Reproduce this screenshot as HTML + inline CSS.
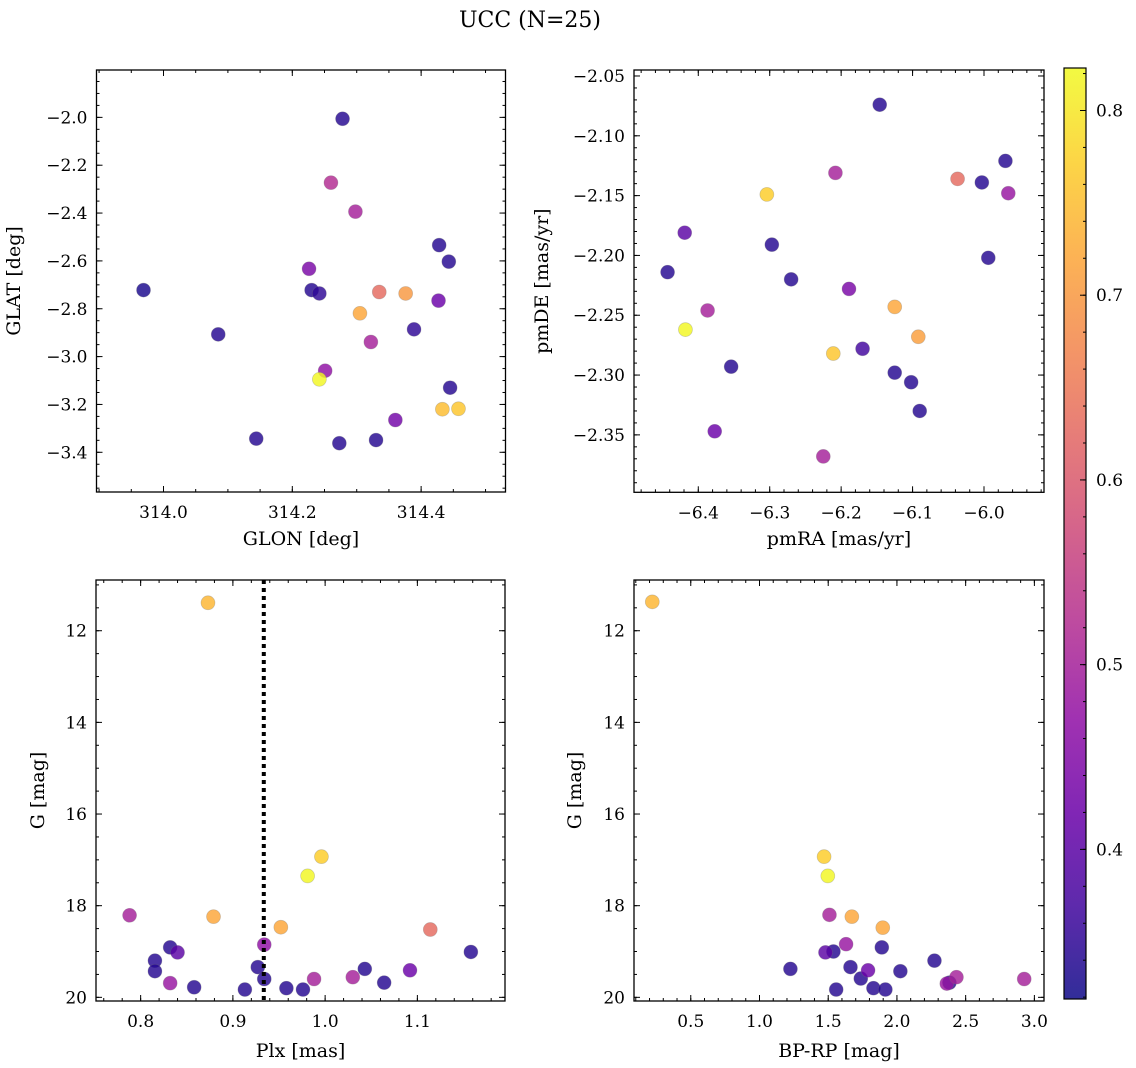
<!DOCTYPE html>
<html><head><meta charset="utf-8"><title>UCC (N=25)</title>
<style>
html,body{margin:0;padding:0;background:#fff;}
svg{display:block;font-family:"DejaVu Serif","Liberation Serif",serif;}
</style></head>
<body>
<svg id="fig" width="1136" height="1068" viewBox="0 0 1136 1068" xmlns="http://www.w3.org/2000/svg">
<text x="530" y="27" font-size="22" text-anchor="middle" fill="#000">UCC (N=25)</text>
</svg>
<script>
// ---- data: top-left (GLON/GLAT) ----
const glonTL=[313.969,314.085,314.144,314.278,314.260,314.298,314.226,314.230,314.242,314.335,314.376,314.305,314.428,314.443,314.427,314.389,314.322,314.251,314.242,314.445,314.433,314.458,314.360,314.273,314.330];
const glatTL=[-2.722,-2.907,-3.343,-2.006,-2.273,-2.394,-2.633,-2.722,-2.736,-2.730,-2.736,-2.819,-2.534,-2.603,-2.766,-2.886,-2.939,-3.059,-3.095,-3.130,-3.220,-3.218,-3.265,-3.362,-3.349];
const probTL=[0.33,0.34,0.34,0.34,0.52,0.50,0.44,0.34,0.35,0.63,0.70,0.72,0.34,0.34,0.42,0.35,0.50,0.47,0.82,0.34,0.75,0.76,0.43,0.34,0.34];
// ---- data: top-right (pmRA/pmDE) ----
const pmraTR=[-6.146,-6.208,-6.304,-6.037,-5.970,-6.003,-5.966,-6.419,-6.443,-6.297,-6.270,-5.994,-6.189,-6.387,-6.418,-6.125,-6.092,-6.211,-6.170,-6.354,-6.125,-6.102,-6.090,-6.377,-6.225];
const pmdeTR=[-2.074,-2.131,-2.149,-2.136,-2.121,-2.139,-2.148,-2.181,-2.214,-2.191,-2.220,-2.202,-2.228,-2.246,-2.262,-2.243,-2.268,-2.282,-2.278,-2.293,-2.298,-2.306,-2.330,-2.347,-2.368];
const probTR=[0.34,0.50,0.77,0.63,0.34,0.34,0.48,0.40,0.34,0.34,0.34,0.34,0.44,0.50,0.82,0.72,0.71,0.76,0.37,0.34,0.34,0.34,0.34,0.42,0.50];
// ---- data: bottom-left (Plx/G) ----
const plxBL=[0.873,0.996,0.981,0.788,0.879,0.952,1.114,1.158,0.832,0.840,0.8155,0.8155,0.832,0.858,0.913,0.927,0.934,0.934,0.958,0.976,0.988,1.030,1.043,1.064,1.092];
const gBL=[11.39,16.93,17.35,18.21,18.24,18.47,18.52,19.01,18.91,19.02,19.20,19.43,19.69,19.78,19.83,19.34,18.85,19.60,19.80,19.83,19.60,19.56,19.38,19.68,19.41];
const probBL=[0.74,0.77,0.82,0.50,0.72,0.72,0.63,0.34,0.34,0.40,0.34,0.34,0.48,0.34,0.34,0.34,0.47,0.34,0.34,0.34,0.50,0.50,0.34,0.34,0.42];
const plxMedian=0.9335;
// ---- data: bottom-right (BP-RP/G) ----
const bprpBR=[0.22,1.470,1.497,1.509,1.672,1.897,1.630,1.890,1.480,1.538,2.273,1.225,1.662,1.790,2.025,1.737,2.433,2.926,2.363,2.382,1.558,1.829,1.916];
const gBR=[11.37,16.93,17.35,18.20,18.24,18.48,18.84,18.91,19.02,19.00,19.20,19.38,19.34,19.41,19.43,19.59,19.56,19.60,19.70,19.68,19.83,19.80,19.83];
const probBR=[0.74,0.77,0.82,0.50,0.72,0.72,0.48,0.34,0.40,0.34,0.34,0.34,0.34,0.42,0.34,0.34,0.50,0.50,0.48,0.34,0.34,0.34,0.34];
// ---- tick labels ----
const ticksGlon=[314.0,314.2,314.4];
const ticksGlat=[-3.4,-3.2,-3.0,-2.8,-2.6,-2.4,-2.2,-2.0];
const ticksPmra=[-6.4,-6.3,-6.2,-6.1,-6.0];
const ticksPmde=[-2.35,-2.30,-2.25,-2.20,-2.15,-2.10,-2.05];
const ticksPlx=[0.8,0.9,1.0,1.1];
const ticksG=[12,14,16,18,20];
const ticksBprp=[0.5,1.0,1.5,2.0,2.5,3.0];
const ticksCbar=[0.4,0.5,0.6,0.7,0.8];

const NS='http://www.w3.org/2000/svg';
const svg=document.getElementById('fig');
const VMIN=0.319,VMAX=0.823;
const TFS=17, AFS=19;
const plasma=[[13,8,135],[65,4,157],[106,0,168],[143,13,164],[177,42,144],[204,71,120],[225,100,98],[242,132,75],[252,166,54],[252,206,37],[240,249,33]];
function cmap(v){let t=(v-VMIN)/(VMAX-VMIN);t=Math.max(0,Math.min(1,t));const f=t*10,i=Math.min(9,Math.floor(f)),r=f-i;const a=plasma[i],b=plasma[i+1];
 return 'rgb('+a.map((c,k)=>Math.round(c+(b[k]-c)*r)).join(',')+')';}
function mk(tag,attrs,parent){const e=document.createElementNS(NS,tag);for(const k in attrs)e.setAttribute(k,attrs[k]);(parent||svg).appendChild(e);return e;}
function fmt(v,d){const s=Math.abs(v).toFixed(d);return (v<-1e-9?'\u2212':'')+s;}

function panel(name,box,xd,yd,xt,yt,xdec,ydec,xminor,yminor,xtitle,ytitle,xtx,yty){
 const g=mk('g',{});
 
 
 const X=v=>box.x0+(v-xd[0])/(xd[1]-xd[0])*(box.x1-box.x0);
 const Y=v=>box.y1-(v-yd[0])/(yd[1]-yd[0])*(box.y1-box.y0);
 const clipId='clip-'+name;
 const cp=mk('clipPath',{id:clipId},g);mk('rect',{x:box.x0,y:box.y0,width:box.x1-box.x0,height:box.y1-box.y0},cp);
 const lo=Math.min(xd[0],xd[1]),hi=Math.max(xd[0],xd[1]);
 for(let v=Math.ceil(lo/xminor)*xminor;v<=hi;v+=xminor){const x=X(v);
  mk('line',{x1:x,x2:x,y1:box.y1,y2:box.y1-3,stroke:'#000','stroke-width':1},g);
  mk('line',{x1:x,x2:x,y1:box.y0,y2:box.y0+3,stroke:'#000','stroke-width':1},g);}
 const ylo=Math.min(yd[0],yd[1]),yhi=Math.max(yd[0],yd[1]);
 for(let v=Math.ceil(ylo/yminor)*yminor;v<=yhi;v+=yminor){const y=Y(v);
  mk('line',{x1:box.x0,x2:box.x0+3,y1:y,y2:y,stroke:'#000','stroke-width':1},g);
  mk('line',{x1:box.x1,x2:box.x1-3,y1:y,y2:y,stroke:'#000','stroke-width':1},g);}
 xt.forEach(v=>{const x=X(v);
  mk('line',{x1:x,x2:x,y1:box.y1,y2:box.y1-6,stroke:'#000','stroke-width':1},g);
  mk('line',{x1:x,x2:x,y1:box.y0,y2:box.y0+6,stroke:'#000','stroke-width':1},g);
  const t=mk('text',{x:x,y:box.y1+26,'font-size':TFS,'text-anchor':'middle'},g);t.textContent=fmt(v,xdec);
  
  });
 yt.forEach(v=>{const y=Y(v);
  mk('line',{x1:box.x0,x2:box.x0+6,y1:y,y2:y,stroke:'#000','stroke-width':1},g);
  mk('line',{x1:box.x1,x2:box.x1-6,y1:y,y2:y,stroke:'#000','stroke-width':1},g);
  const t=mk('text',{x:box.x0-9,y:y+6,'font-size':TFS,'text-anchor':'end'},g);t.textContent=fmt(v,ydec);
  
  });
 const xl=mk('text',{x:(box.x0+box.x1)/2,y:xtx,'font-size':AFS,'text-anchor':'middle'},g);xl.textContent=xtitle;
 
 
 const yc=(box.y0+box.y1)/2;
 const yl=mk('text',{x:yty,y:yc,'font-size':AFS,'text-anchor':'middle',transform:'rotate(-90 '+yty+' '+yc+')'},g);yl.textContent=ytitle;
 
 
 const frame=mk('rect',{x:box.x0,y:box.y0,width:box.x1-box.x0,height:box.y1-box.y0,fill:'none',stroke:'#000','stroke-width':1.3},g);
 
 
 const pg=mk('g',{'clip-path':'url(#'+clipId+')'},g);
 return {X,Y,pg};
}
function scatter(p,name,xs,ys,cs){
 const idx=xs.map((_,i)=>i).sort((a,b)=>cs[a]-cs[b]);
 idx.forEach(i=>{const c=mk('circle',{cx:p.X(xs[i]),cy:p.Y(ys[i]),r:7,fill:cmap(cs[i]),'fill-opacity':0.82,stroke:'#777','stroke-opacity':0.35,'stroke-width':0.7},p.pg);
  
  });
}

const pTL=panel('glon-glat',{x0:96.5,x1:505.5,y0:70,y1:492},[313.896,314.531],[-3.566,-1.802],ticksGlon,ticksGlat,1,1,0.05,0.05,'GLON [deg]','GLAT [deg]',545,20);
scatter(pTL,'glon-glat',glonTL,glatTL,probTL);
const pTR=panel('pm',{x0:634,x1:1044,y0:70,y1:492.3},[-6.490,-5.916],[-2.398,-2.045],ticksPmra,ticksPmde,1,2,0.02,0.01,'pmRA [mas/yr]','pmDE [mas/yr]',545,548);
scatter(pTR,'pm',pmraTR,pmdeTR,probTR);
const pBL=panel('plx-g',{x0:96,x1:505,y0:580,y1:1001},[0.7516,1.195],[20.08,10.893],ticksPlx,ticksG,1,0,0.02,0.5,'Plx [mas]','G [mag]',1057,44);
const med=mk('line',{x1:pBL.X(plxMedian),x2:pBL.X(plxMedian),y1:580,y2:1001,stroke:'#000','stroke-width':4,'stroke-dasharray':'4 4'},pBL.pg);


scatter(pBL,'plx-g',plxBL,gBL,probBL);
pBL.pg.appendChild(med);
const pBR=panel('cmd',{x0:634,x1:1044,y0:580,y1:1001},[0.087,3.07],[20.08,10.893],ticksBprp,ticksG,1,0,0.1,0.5,'BP-RP [mag]','G [mag]',1057,581);
scatter(pBR,'cmd',bprpBR,gBR,probBR);

const cb={x0:1064,x1:1086,y0:68,y1:999};
const defs=mk('defs',{});
const lg=mk('linearGradient',{id:'plasmaGrad',x1:0,y1:1,x2:0,y2:0},defs);
for(let k=0;k<=20;k++){const v=VMIN+(VMAX-VMIN)*k/20;mk('stop',{offset:(k/20),'stop-color':cmap(v),'stop-opacity':0.85},lg);}
const cbg=mk('g',{});


mk('rect',{x:cb.x0,y:cb.y0,width:cb.x1-cb.x0,height:cb.y1-cb.y0,fill:'url(#plasmaGrad)',stroke:'#000','stroke-width':1.2},cbg);
const CY=v=>cb.y1-(v-VMIN)/(VMAX-VMIN)*(cb.y1-cb.y0);
for(let v=0.32;v<=VMAX;v+=0.02){mk('line',{x1:cb.x1,x2:cb.x1-3,y1:CY(v),y2:CY(v),stroke:'#000','stroke-width':1},cbg);}
ticksCbar.forEach(v=>{const y=CY(v);mk('line',{x1:cb.x1,x2:cb.x1-6,y1:y,y2:y,stroke:'#000','stroke-width':1},cbg);
 const t=mk('text',{x:cb.x1+10,y:y+6,'font-size':TFS},cbg);t.textContent=v.toFixed(1);
 
 });
</script>
</body></html>
